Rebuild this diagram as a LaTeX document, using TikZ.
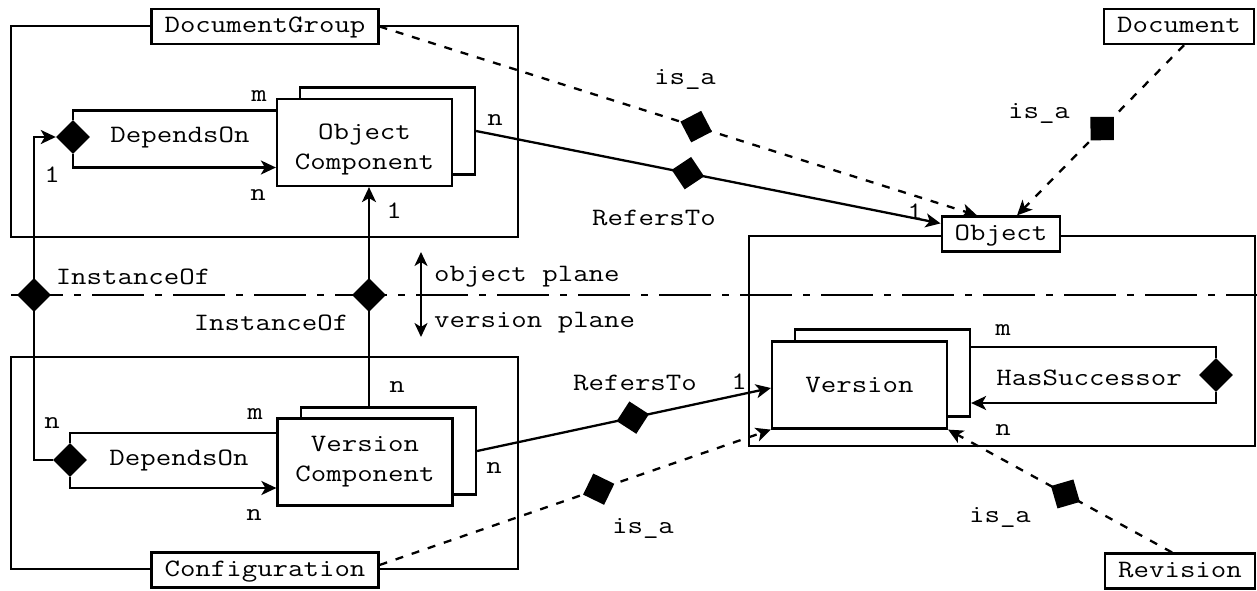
\documentclass[tikz,border=0pt]{standalone}
\usepackage{fontspec}
\newfontfamily\cour{Latin Modern Mono}[FakeStretch=1.2]
\usetikzlibrary{shapes.geometric,arrows.meta}
\begin{document}
\begin{tikzpicture}[x=1pt,y=-1pt,
  every node/.style={font=\cour\fontsize{25}{30}\selectfont},
  ln/.style={line width=2.3pt},
  arr/.style={-{Stealth[length=15pt,width=14pt,inset=4pt]}},
  dsh/.style={dash pattern=on 8pt off 9pt},
  dashdot/.style={dash pattern=on 52pt off 11pt on 7pt off 11pt},
  frame/.style={draw,line width=2.2pt,inner sep=0pt},
  tag/.style={draw,fill=white,line width=2.2pt,inner xsep=13pt,inner ysep=0pt,
    minimum height=35pt,text height=17pt,text depth=5pt},
  comp/.style={draw,fill=white,line width=2.2pt,minimum width=175pt,
    minimum height=87pt,align=center,inner sep=0pt},
  dmd/.style={diamond,fill=black,draw=none,inner sep=0pt,
    minimum width=34pt,minimum height=34pt},
  lbl/.style={inner sep=0pt}]
\useasboundingbox (0,0) rectangle (1257,590);

% group frames
\node[frame,minimum width=507pt,minimum height=211pt] (dgf) at (264.5,131.5) {};
\node[frame,minimum width=507pt,minimum height=212pt] (cff) at (264.5,463) {};
\node[frame,minimum width=506pt,minimum height=210pt] (obf) at (1002,341) {};

% plane separator
\coordinate (dl) at (11,295);
\coordinate (dr) at (1257,295);
\draw[ln,dashdot] (dl) -- (dr);

% named tags
\node[tag] (dg) at (265,26.5) {DocumentGroup};
\node[tag] (conf) at (265,570) {Configuration};
\node[tag] (doc) at (1179,26.5) {Document};
\node[tag] (obj) at (1001,234) {Object};
\node[tag] (rev) at (1180,571) {Revision};

% stacked component boxes
\node[comp] (ocb) at (387.5,131) {};
\node[comp,text height=58pt,text depth=5pt] (oc) at (364.5,142.5) {Object\\Component};
\node[comp] (vcb) at (388.5,451) {};
\node[comp] (vc) at (365,462) {Version\\Component};
\node[comp] (verb) at (882.5,373) {};
\node[comp] (ver) at (859.5,385) {Version};

% relationship diamonds
\node[dmd] (dA) at (73,137) {};
\node[dmd] (dB) at (70,460) {};
\node[dmd] (iA) at (34,295) {};
\node[dmd] (iB) at (369,295) {};
\node[dmd] (hs) at (1216,375) {};

% DependsOn loops
\draw[ln] (dA.north) |- ([yshift=32pt]oc.west);
\draw[ln,arr] (dA.south) |- ([yshift=-25pt]oc.west);
\draw[ln] (dB.north) |- ([yshift=29pt]vc.west);
\draw[ln,arr] (dB.south) |- ([yshift=-26pt]vc.west);

% InstanceOf
\draw[ln,arr] (dB.west) -| (iA.center) |- (dA.west);
\draw[ln,arr] (vcb.north -| iB.center) -- (oc.south -| iB.center);

% HasSuccessor loop
\draw[ln] ([yshift=26pt]verb.east) -| (hs.north);
\draw[ln,arr] (hs.south) |- ([yshift=-30pt]verb.east);

% RefersTo
\draw[ln,arr] (ocb.east) -- node[dmd,sloped,pos=0.456] (r1) {} ([yshift=-8pt]obj.north west);
\draw[ln,arr] (vcb.east) -- node[dmd,sloped,pos=0.53] (r2) {} ([yshift=-3pt]ver.west);

% is_a
\draw[ln,dsh,arr] (dg.east) -- node[dmd,sloped,pos=0.53] (s1) {} ([xshift=-24pt]obj.north);
\draw[ln,dsh,arr] ([xshift=5pt]doc.south) -- node[dmd,sloped,pos=0.49] (s2) {} ([xshift=16pt]obj.north);
\draw[ln,dsh,arr] ([yshift=5pt]conf.east) -- node[dmd,sloped,pos=0.56] (s3) {} (ver.south west);
\draw[ln,dsh,arr] ([xshift=-8pt]rev.north) -- node[dmd,sloped,pos=0.476] (s4) {} (ver.south east);

% plane indicator
\coordinate (pa) at (421,252);
\coordinate (pb) at (421,337);
\draw[ln,{Stealth[length=14pt,width=13pt,inset=4pt]}-{Stealth[length=14pt,width=13pt,inset=4pt]}] (pa) -- (pb);
\node[lbl,anchor=west] (objpl) at (434,277) {object plane};
\node[lbl,anchor=west] (verpl) at (434,323) {version plane};

% labels
\node[lbl] (dep1) at (180,137) {DependsOn};
\node[lbl] (dep2) at (179,460) {DependsOn};
\node[lbl] (inst1) at (133,277) {InstanceOf};
\node[lbl] (inst2) at (271,323) {InstanceOf};
\node[lbl] (rt1) at (654,218) {RefersTo};
\node[lbl] (rt2) at (635,383) {RefersTo};
\node[lbl] (hst) at (1089,378) {HasSuccessor};
\node[lbl] (isa1) at (685,79) {is\_a};
\node[lbl] (isa2) at (1039,113) {is\_a};
\node[lbl] (isa3) at (643,528) {is\_a};
\node[lbl] (isa4) at (1000,517) {is\_a};

% cardinalities
\node[lbl] (m1) at (259,96) {m};
\node[lbl] (n1) at (258,195) {n};
\node[lbl] (c1) at (52,175) {1};
\node[lbl] (n2) at (495,120) {n};
\node[lbl] (c2) at (394,211) {1};
\node[lbl] (n3) at (397,387) {n};
\node[lbl] (m2) at (255,414) {m};
\node[lbl] (n4) at (52,423) {n};
\node[lbl] (n5) at (254,515) {n};
\node[lbl] (n6) at (494,468) {n};
\node[lbl] (c3) at (915,212) {1};
\node[lbl] (c4) at (739,382) {1};
\node[lbl] (m3) at (1003,330) {m};
\node[lbl] (n7) at (1003,430) {n};
\end{tikzpicture}
\end{document}
